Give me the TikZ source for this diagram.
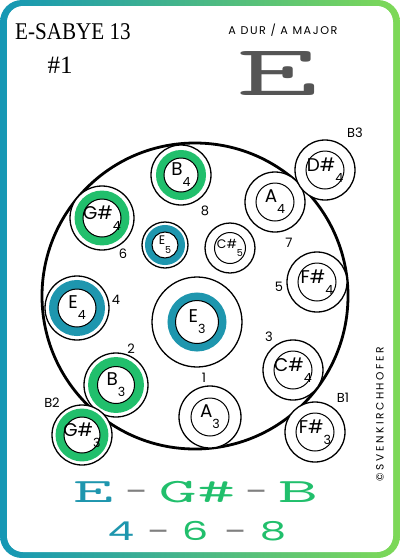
\documentclass[tikz,border=0pt]{standalone}
\usepackage{fontspec}
\setmainfont{Poppins}
\newfontfamily\titlefont{Liberation Serif}

\definecolor{panteal}{HTML}{1E96AE}
\definecolor{pangreen}{HTML}{21BF6C}
\definecolor{edgeteal}{HTML}{1597B5}
\definecolor{edgegreen}{HTML}{7ED957}
\definecolor{logogray}{HTML}{555555}

% note name with octave number set low to the right
\newcommand{\pitch}[2]{#1\raisebox{-0.6em}{\fontsize{6.3}{6.3}\selectfont #2}}
\newcommand{\smallpitch}[2]{#1\raisebox{-0.7em}{\fontsize{4.8}{4.8}\selectfont #2}}

\tikzset{
  shell/.style={circle, draw, line width=0.65pt, fill=white, inner sep=0pt, minimum size=#1},
  band/.style 2 args={circle, draw=#1, line width=#2, inner sep=0pt},
  core/.style={circle, draw, line width=0.5pt, inner sep=0pt, minimum size=#1},
  tone/.style={font=\fontsize{9.2}{9.2}\selectfont, inner sep=0pt},
  smalltone/.style={font=\fontsize{6.2}{6.2}\selectfont, inner sep=0pt},
  field/.style={font=\fontsize{6.5}{6.5}\selectfont},
  chordname/.style={font=\ttfamily\fontsize{17}{17}\selectfont, xscale=2.3},
  finger/.style={font=\fontsize{13}{13}\selectfont, xscale=1.6},
  sep/.style={font=\fontsize{14}{14}\selectfont, text=gray, xscale=1.5},
}

\begin{document}
\begin{tikzpicture}[x=0.5pt, y=-0.5pt]
  \useasboundingbox (0,0) rectangle (400,558);
  % card frame
  \path[left color=edgeteal, right color=edgegreen, rounded corners=11pt] (0,0) rectangle (400,558);
  \path[fill=white, rounded corners=8pt] (7,6) rectangle (393,552);

  % heading
  \node[font=\titlefont\fontsize{12}{12}\selectfont, xscale=0.88] (title) at (73,32) {E-SABYE 13};
  \node[font=\titlefont\fontsize{12.5}{12.5}\selectfont] (num) at (60,65) {\#1};
  \node[font=\fontsize{5.6}{5.6}\selectfont\addfontfeature{LetterSpace=14}] (scale) at (283,30) {A DUR / A MAJOR};
  \node[font=\ttfamily\fontsize{36}{36}\selectfont, text=logogray, xscale=2.2] (logo) at (277,74) {E};

  % pan body
  \node[circle, draw, line width=1.4pt, inner sep=0pt, minimum size=153pt] (pan) at (195,296) {};

  % notes
  \node[shell=30pt] (b4s) at (181,175) {};
  \node[band={pangreen}{4pt}, minimum size=21pt] (b4b) at (b4s) {};
  \node[core=17pt] (b4c) at (b4s) {};
  \node[tone] (b4) at (b4s) {\pitch{B}{4}};

  \node[shell=32pt] (gs4s) at (102,218) {};
  \node[band={pangreen}{4.25pt}, minimum size=23.2pt] (gs4b) at (gs4s) {};
  \node[core=19pt] (gs4c) at (gs4s) {};
  \node[tone] (gs4) at (gs4s) {\pitch{G\#}{4}};

  \node[shell=23pt] (e5s) at (165,245) {};
  \node[band={panteal}{3.5pt}, minimum size=16.5pt] (e5b) at (e5s) {};
  \node[core=13pt] (e5c) at (e5s) {};
  \node[smalltone] (e5) at (e5s) {\smallpitch{E}{5}};

  \node[shell=25pt] (cs5s) at (230,248) {};
  \node[core=15.5pt] (cs5c) at (cs5s) {};
  \node[smalltone] (cs5) at (cs5s) {\smallpitch{C\#}{5}};

  \node[shell=30pt] (a4s) at (275,202) {};
  \node[core=19pt] (a4c) at (a4s) {};
  \node[tone] (a4) at (a4s) {\pitch{A}{4}};

  \node[shell=30pt] (ds4s) at (325,170) {};
  \node[core=19pt] (ds4c) at (ds4s) {};
  \node[tone] (ds4) at (ds4s) {\pitch{D\#}{4}};

  \node[shell=30pt] (fs4s) at (317,282) {};
  \node[core=19pt] (fs4c) at (fs4s) {};
  \node[tone] (fs4) at (fs4s) {\pitch{F\#}{4}};

  \node[shell=32pt] (e4s) at (77,308) {};
  \node[band={panteal}{4.5pt}, minimum size=23.5pt] (e4b) at (e4s) {};
  \node[core=19pt] (e4c) at (e4s) {};
  \node[tone] (e4) at (e4s) {\pitch{E}{4}};

  \node[shell=45pt] (e3s) at (197,322) {};
  \node[band={panteal}{4pt}, minimum size=25.5pt] (e3b) at (e3s) {};
  \node[core=21.5pt] (e3c) at (e3s) {};
  \node[tone] (e3) at (e3s) {\pitch{E}{3}};

  \node[shell=32pt] (b3s) at (116,385) {};
  \node[band={pangreen}{4.75pt}, minimum size=23.2pt] (b3b) at (b3s) {};
  \node[core=18.5pt] (b3c) at (b3s) {};
  \node[tone] (b3) at (b3s) {\pitch{B}{3}};

  \node[shell=30pt] (cs4s) at (293,370) {};
  \node[core=19pt] (cs4c) at (cs4s) {};
  \node[tone] (cs4) at (cs4s) {\pitch{C\#}{4}};

  \node[shell=31pt] (a3s) at (210,417) {};
  \node[core=19pt] (a3c) at (a3s) {};
  \node[tone] (a3) at (a3s) {\pitch{A}{3}};

  \node[shell=30pt] (gs3s) at (82,435) {};
  \node[band={pangreen}{4.25pt}, minimum size=22.2pt] (gs3b) at (gs3s) {};
  \node[core=18pt] (gs3c) at (gs3s) {};
  \node[tone] (gs3) at (gs3s) {\pitch{G\#}{3}};

  \node[shell=30pt] (fs3s) at (315,432) {};
  \node[core=19pt] (fs3c) at (fs3s) {};
  \node[tone] (fs3) at (fs3s) {\pitch{F\#}{3}};

  % field numbers
  \node[field] (n1) at (204,378) {1};
  \node[field] (n2) at (131,349) {2};
  \node[field] (n3) at (269,337) {3};
  \node[field] (n4) at (116,300) {4};
  \node[field] (n5) at (279,287) {5};
  \node[field] (n6) at (123,254) {6};
  \node[field] (n7) at (289,243) {7};
  \node[field] (n8) at (205,211) {8};
  \node[field] (nb1) at (343,398) {B1};
  \node[field] (nb2) at (52,403) {B2};
  \node[field] (nb3) at (355,133) {B3};

  % chord
  \node[chordname, text=panteal] (ch1) at (93,492) {E};
  \node[sep] (d1) at (137,492) {\vphantom{E}-};
  \node[chordname, text=pangreen, xscale=0.95] (ch2) at (197,492) {G\#};
  \node[sep] (d2) at (257,492) {\vphantom{E}-};
  \node[chordname, text=pangreen] (ch3) at (298,492) {B};

  \node[finger, text=panteal] (f1) at (121,531) {4};
  \node[sep] (d3) at (159,531) {\vphantom{4}-};
  \node[finger, text=pangreen] (f2) at (195,531) {6};
  \node[sep] (d4) at (236,531) {\vphantom{4}-};
  \node[finger, text=pangreen] (f3) at (273,531) {8};

  % signature
  \node[rotate=90, font=\fontsize{5.3}{5.3}\selectfont\addfontfeature{LetterSpace=24}] (sign) at (380,414) {©SVENKIRCHHOFER};
\end{tikzpicture}
\end{document}
